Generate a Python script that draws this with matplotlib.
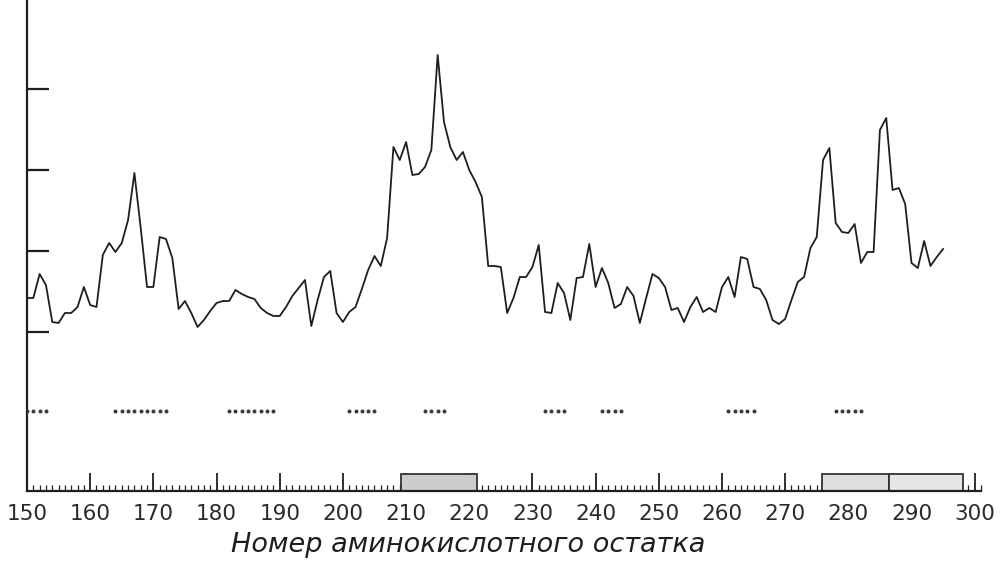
import matplotlib.pyplot as plt
from matplotlib.patches import Rectangle
from matplotlib.ticker import MultipleLocator
import numpy as np

###############################################################################
# Data (arbitrary units; tick spacing = 81)
###############################################################################

residues = np.arange(150, 296)
profile = [34, 34, 58, 47, 10, 9, 19, 19, 25, 45,            # 150-159
           27, 25, 77, 89, 80, 89, 112, 159, 104, 45,        # 160-169
           45, 95, 93, 74, 23, 31, 19, 5, 12, 21,            # 170-179
           29, 31, 31, 42, 38, 35, 33, 24, 19, 16,           # 180-189
           16, 25, 36, 44, 52, 6, 32, 55, 61, 19,            # 190-199
           10, 20, 25, 43, 62, 76, 66, 94, 185, 172,         # 200-209
           190, 157, 158, 165, 182, 277, 210, 185, 172, 180, # 210-219
           162, 150, 135, 66, 66, 65, 19, 34, 55, 55,        # 220-229
           65, 87, 20, 19, 49, 39, 12, 54, 55, 88,           # 230-239
           45, 64, 49, 24, 28, 45, 36, 9, 34, 58,            # 240-249
           54, 45, 22, 24, 10, 25, 35, 20, 24, 20,           # 250-259
           45, 55, 35, 75, 73, 45, 43, 32, 12, 8,            # 260-269
           13, 32, 50, 55, 84, 95, 172, 184, 109, 100,       # 270-279
           99, 108, 69, 80, 80, 202, 214, 142, 144, 128,     # 280-289
           69, 64, 91, 66, 75, 83]                           # 290-295

# runs of dotted residues (first, last)
dot_groups = [(150, 153), (164, 172), (182, 189), (201, 205), (213, 216),
              (232, 235), (241, 244), (261, 265), (278, 282)]

# shaded segments on the axis (start, end residue)
box_spans = [(209.2, 221.2), (275.8, 286.4), (286.4, 298.1)]
box_fill = ['#cdcdcd', '#dedede', '#e6e6e6']

xlabel = 'Номер аминокислотного остатка'

###############################################################################
# Figure
###############################################################################

fig = plt.figure(figsize=(10.04, 5.63), dpi=100)
ax = fig.add_axes([27 / 1004, 72 / 563, (981 - 27) / 1004, 491 / 563])

ax.plot(residues, profile, color='#1e1e1e', linewidth=1.3)

dot_x = np.concatenate([np.arange(a, b + 1) for a, b in dot_groups])
ax.scatter(dot_x, np.full(len(dot_x), -79), s=3.5, color='#3a3a3a', zorder=3)

for (a, b), fc in zip(box_spans, box_fill):
    ax.add_patch(Rectangle((a, -159), b - a, 17, facecolor=fc,
                           edgecolor='#333333', linewidth=1.3, zorder=2,
                           clip_on=False))

ax.set_xlim(150, 301)
ax.set_ylim(-159, 332)

for s in ['top', 'right']:
    ax.spines[s].set_visible(False)
for s in ['left', 'bottom']:
    ax.spines[s].set_linewidth(1.6)
    ax.spines[s].set_color('#1e1e1e')

ax.set_xticks(np.arange(150, 301, 10))
ax.xaxis.set_minor_locator(MultipleLocator(1))
ax.tick_params(axis='x', which='major', direction='in', length=13, width=1.3,
               color='#1e1e1e', pad=9, labelsize=15.5, labelcolor='#2a2a2a')
ax.tick_params(axis='x', which='minor', direction='in', length=4, width=0.9,
               color='#1e1e1e')

ax.set_yticks([0, 81, 162, 243])
ax.set_yticklabels([])
ax.tick_params(axis='y', direction='in', length=16, width=1.6, color='#1e1e1e')

fig.text(468 / 1004, 1 - 545 / 563, xlabel, ha='center', va='center',
         fontsize=19.5, style='italic', color='#1e1e1e')

fig.savefig('out.png', dpi=100)
